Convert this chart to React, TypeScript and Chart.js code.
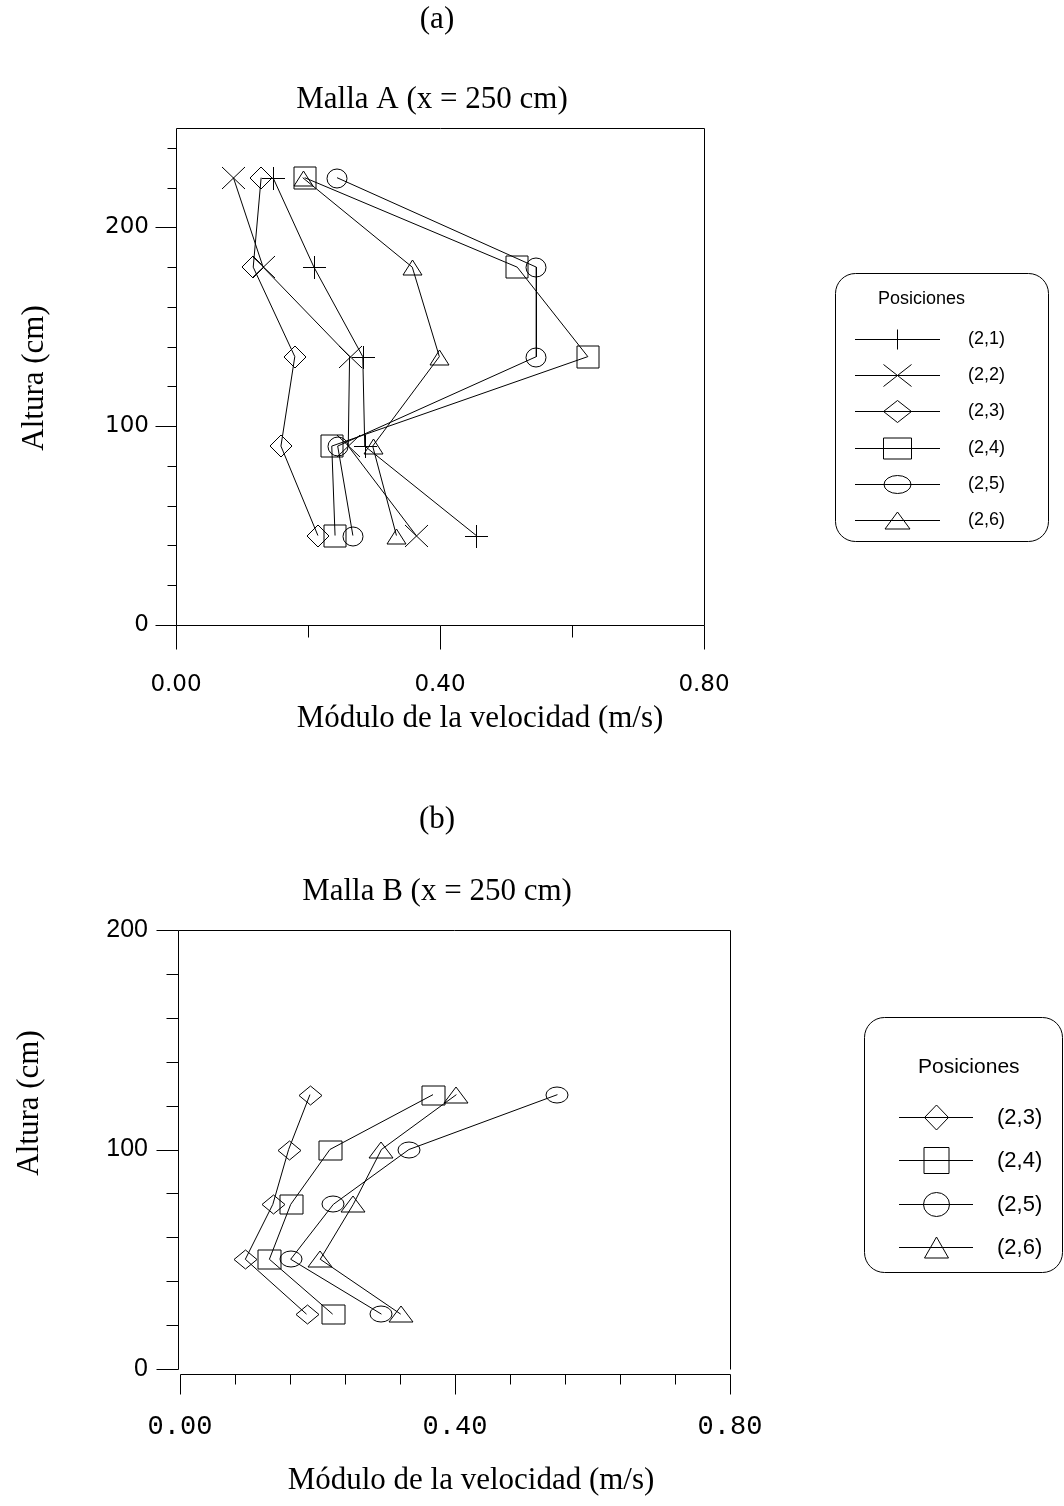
import React, { useEffect, useRef } from 'react';
import { Chart, registerables } from 'chart.js';

Chart.register(...registerables);

// ---------------- Data ----------------
// Chart (a): Malla A
const heightsA = [225, 180, 135, 90, 45];
const velA21 = [0.147, 0.209, 0.283, 0.286, 0.455];
const velA22 = [0.087, 0.132, 0.263, 0.261, 0.364];
const velA23 = [0.129, 0.117, 0.18, 0.159, 0.215];
const velA24 = [0.195, 0.517, 0.624, 0.236, 0.241];
const velA25 = [0.244, 0.546, 0.546, 0.245, 0.268];
const velA26 = [0.192, 0.358, 0.399, 0.298, 0.334];
const labelsA = ['(2,1)', '(2,2)', '(2,3)', '(2,4)', '(2,5)', '(2,6)'];

// Chart (b): Malla B
const heightsB = [125, 100, 75, 50, 25];
const velB23 = [0.189, 0.158, 0.135, 0.095, 0.184];
const velB24 = [0.368, 0.218, 0.161, 0.13, 0.222];
const velB25 = [0.549, 0.333, 0.223, 0.161, 0.293];
const velB26 = [0.402, 0.293, 0.252, 0.204, 0.321];
const labelsB = ['(2,3)', '(2,4)', '(2,5)', '(2,6)'];

// Tick labels
const xTickValues = [0, 0.4, 0.8];
const yTicksA = [0, 100, 200];
const yTicksB = [0, 100, 200];

const legendTitle = 'Posiciones';

// ---------------- Styles ----------------
type Shape = 'plus' | 'x' | 'diamond' | 'square' | 'circle' | 'triangle';
const shapesA: Shape[] = ['plus', 'x', 'diamond', 'square', 'circle', 'triangle'];
const shapesB: Shape[] = ['diamond', 'square', 'circle', 'triangle'];
const plotSizeA: [number, number][] = [[23, 23], [23, 22], [22, 22], [22, 22], [20, 19], [19, 15]];
const legSizeA: [number, number][] = [[20, 20], [28, 22], [28, 22], [28, 21], [27, 18], [25, 17]];
const plotSizeB: [number, number][] = [[23, 19], [23, 19], [22, 16], [24, 16]];
const legSizeB: [number, number][] = [[24, 25], [25, 26], [26, 24], [24, 21]];

const SERIF = '"Liberation Serif", "Times New Roman", serif';
const SANS = '"Liberation Sans", Arial, sans-serif';

function pathShape(ctx: CanvasRenderingContext2D, shape: Shape, cx: number, cy: number, w: number, h: number) {
  const hw = w / 2;
  const hh = h / 2;
  ctx.beginPath();
  switch (shape) {
    case 'plus':
      ctx.moveTo(cx - hw, cy);
      ctx.lineTo(cx + hw, cy);
      ctx.moveTo(cx, cy - hh);
      ctx.lineTo(cx, cy + hh);
      break;
    case 'x':
      ctx.moveTo(cx - hw, cy - hh);
      ctx.lineTo(cx + hw, cy + hh);
      ctx.moveTo(cx + hw, cy - hh);
      ctx.lineTo(cx - hw, cy + hh);
      break;
    case 'diamond':
      ctx.moveTo(cx, cy - hh);
      ctx.lineTo(cx + hw, cy);
      ctx.lineTo(cx, cy + hh);
      ctx.lineTo(cx - hw, cy);
      ctx.closePath();
      break;
    case 'square':
      ctx.rect(cx - hw, cy - hh, w, h);
      break;
    case 'circle':
      ctx.ellipse(cx, cy, hw, hh, 0, 0, Math.PI * 2);
      break;
    case 'triangle':
      ctx.moveTo(cx, cy - hh);
      ctx.lineTo(cx + hw, cy + hh);
      ctx.lineTo(cx - hw, cy + hh);
      ctx.closePath();
      break;
  }
  ctx.stroke();
}

function makeMarker(shape: Shape, w: number, h: number): HTMLCanvasElement {
  const c = document.createElement('canvas');
  const ew = w % 2 === 0 ? w + 4 : w + 3;
  const eh = h % 2 === 0 ? h + 4 : h + 3;
  c.width = ew;
  c.height = eh;
  const ctx = c.getContext('2d')!;
  ctx.strokeStyle = '#000';
  ctx.lineWidth = 1;
  const cx = Math.floor(ew / 2) + (w % 2 === 0 ? 0 : 0.5);
  const cy = Math.floor(eh / 2) + (h % 2 === 0 ? 0 : 0.5);
  pathShape(ctx, shape, cx, cy, w, h);
  return c;
}

function roundRectPath(ctx: CanvasRenderingContext2D, x1: number, y1: number, x2: number, y2: number, r: number) {
  ctx.beginPath();
  ctx.moveTo(x1 + r, y1);
  ctx.lineTo(x2 - r, y1);
  ctx.arcTo(x2, y1, x2, y1 + r, r);
  ctx.lineTo(x2, y2 - r);
  ctx.arcTo(x2, y2, x2 - r, y2, r);
  ctx.lineTo(x1 + r, y2);
  ctx.arcTo(x1, y2, x1, y2 - r, r);
  ctx.lineTo(x1, y1 + r);
  ctx.arcTo(x1, y1, x1 + r, y1, r);
  ctx.closePath();
}

const decorPlugin = {
  id: 'decor',
  beforeDraw(chart: any) {
    const { ctx, width, height } = chart;
    ctx.save();
    ctx.fillStyle = '#fff';
    ctx.fillRect(0, 0, width, height);
    ctx.restore();
  },
  beforeDatasetsDraw(chart: any) {
    chart.ctx.imageSmoothingEnabled = false;
  },
  afterDatasetsDraw(chart: any) {
    chart.ctx.imageSmoothingEnabled = true;
  },
  afterDraw(chart: any, _args: any, o: any) {
    const { ctx, chartArea: ca, scales } = chart;
    const xs = scales.x;
    const ys = scales.y;
    const f = o.frame;
    const p = (v: number) => Math.round(v) + 0.5;
    const line = (x1: number, y1: number, x2: number, y2: number) => {
      ctx.beginPath();
      ctx.moveTo(x1, y1);
      ctx.lineTo(x2, y2);
      ctx.stroke();
    };
    ctx.save();
    ctx.strokeStyle = '#000';
    ctx.lineWidth = 1;

    const yAx = p(ca.left - f.yAxisOffset);
    const top = p(ca.top);
    const right = p(ca.right);
    const bottom = p(ca.bottom);
    // frame
    line(yAx, top, yAx, bottom);
    line(yAx, top, right, top);
    line(right, top, right, bottom);
    // y ticks
    for (let i = 0; i * f.yStep <= ys.max + 1e-9; i++) {
      const v = i * f.yStep;
      const major = o.yMajor.some((m: number) => Math.abs(m - v) < 1e-9);
      const py = p(ys.getPixelForValue(v));
      line(yAx - (major ? f.yMajorLen : f.yMinorLen), py, yAx, py);
    }
    // x axis
    const xAy = p(ca.bottom + f.xAxisOffset);
    line(p(xs.getPixelForValue(xs.min)), xAy, p(xs.getPixelForValue(xs.max)), xAy);
    for (let i = 0; i * f.xStep <= xs.max + 1e-9; i++) {
      const v = i * f.xStep;
      const major = o.xMajor.some((m: number) => Math.abs(m - v) < 1e-9);
      const px = p(xs.getPixelForValue(v));
      line(px, xAy, px, xAy + (major ? f.xMajorLen : f.xMinorLen));
    }

    // texts
    ctx.fillStyle = '#000';
    ctx.textAlign = 'center';
    ctx.textBaseline = 'middle';
    for (const t of o.texts) {
      ctx.font = t.font;
      if (t.rotate) {
        ctx.save();
        ctx.translate(t.x, t.y);
        ctx.rotate(-Math.PI / 2);
        ctx.fillText(t.text, 0, 0);
        ctx.restore();
      } else {
        ctx.fillText(t.text, t.x, t.y);
      }
    }

    // legend
    const L = o.legend;
    roundRectPath(ctx, L.box[0] + 0.5, L.box[1] + 0.5, L.box[2] + 0.5, L.box[3] + 0.5, L.radius);
    ctx.stroke();
    ctx.textAlign = 'left';
    ctx.font = L.titleFont;
    ctx.fillText(L.title, L.titleX, L.titleY);
    ctx.font = L.labelFont;
    L.items.forEach((it: any, i: number) => {
      const ry = p(L.rowY0 + i * L.rowStep);
      line(L.lineX1, ry, L.lineX2, ry);
      pathShape(ctx, it.shape, L.markerX + 0.5, ry, it.w, it.h);
      ctx.fillText(it.label, L.labelX, ry);
    });
    ctx.restore();
  },
};

function buildDatasets(heights: number[], series: number[][], labels: string[], shapes: Shape[], sizes: [number, number][]) {
  return series.map((vals, i) => ({
    label: labels[i],
    data: vals.map((v, j) => ({ x: v, y: heights[j] })),
    showLine: true,
    borderColor: '#000',
    borderWidth: 1,
    pointStyle: makeMarker(shapes[i], sizes[i][0], sizes[i][1]),
    pointRadius: 10,
    pointHoverRadius: 10,
    pointBackgroundColor: 'rgba(0,0,0,0)',
    pointBorderColor: '#000',
    fill: false,
    tension: 0,
  }));
}

function scalesConfig(opts: any) {
  return {
    x: {
      type: 'linear',
      position: 'bottom',
      min: 0,
      max: 0.8,
      grid: { display: false, drawTicks: false },
      border: { display: false },
      afterBuildTicks: (s: any) => {
        s.ticks = xTickValues.map((v) => ({ value: v }));
      },
      afterFit: (s: any) => {
        s.height = opts.xHeight;
      },
      ticks: {
        autoSkip: false,
        maxRotation: 0,
        color: '#000',
        padding: opts.xPad,
        font: opts.xFont,
        callback: (v: any) => Number(v).toFixed(2),
      },
    },
    y: {
      type: 'linear',
      min: 0,
      max: opts.yMax,
      grid: { display: false, drawTicks: false },
      border: { display: false },
      afterBuildTicks: (s: any) => {
        s.ticks = opts.yTicks.map((v: number) => ({ value: v }));
      },
      afterFit: (s: any) => {
        s.width = opts.yWidth;
      },
      ticks: {
        autoSkip: false,
        color: '#000',
        padding: opts.yPad,
        font: opts.yFont,
        callback: (v: any) => String(v),
      },
    },
  };
}

function configA(): any {
  return {
    type: 'scatter',
    data: {
      datasets: buildDatasets(heightsA, [velA21, velA22, velA23, velA24, velA25, velA26], labelsA, shapesA, plotSizeA),
    },
    options: {
      responsive: false,
      animation: false,
      events: [],
      devicePixelRatio: 1,
      layout: { padding: { left: 0, right: 360, top: 128, bottom: 28 } },
      scales: scalesConfig({
        xHeight: 100,
        xPad: 46,
        xFont: { family: '"DejaVu Sans", Verdana, sans-serif', size: 23 },
        yMax: 250,
        yTicks: yTicksA,
        yWidth: 176,
        yPad: 27,
        yFont: { family: '"DejaVu Sans", Verdana, sans-serif', size: 23 },
      }),
      plugins: {
        legend: { display: false },
        title: { display: false },
        tooltip: { enabled: false },
        decor: {
          frame: { yAxisOffset: 0, xAxisOffset: 0, yStep: 20, yMajorLen: 21, yMinorLen: 9, xStep: 0.2, xMajorLen: 24, xMinorLen: 12 },
          yMajor: yTicksA,
          xMajor: xTickValues,
          texts: [
            { text: '(a)', x: 437, y: 20, font: `31px ${SERIF}` },
            { text: 'Malla A (x = 250 cm)', x: 432, y: 100, font: `31px ${SERIF}` },
            { text: 'Altura (cm)', x: 35, y: 378, font: `31px ${SERIF}`, rotate: true },
            { text: 'Módulo de la velocidad (m/s)', x: 480, y: 719, font: `31px ${SERIF}` },
          ],
          legend: {
            box: [835, 273, 1048, 541],
            radius: 20,
            title: legendTitle,
            titleX: 878,
            titleY: 299,
            titleFont: `18px ${SANS}`,
            labelFont: `18px ${SANS}`,
            rowY0: 339,
            rowStep: 36.2,
            lineX1: 855,
            lineX2: 940,
            markerX: 897,
            labelX: 968,
            items: labelsA.map((l, i) => ({ label: l, shape: shapesA[i], w: legSizeA[i][0], h: legSizeA[i][1] })),
          },
        },
      },
    },
    plugins: [decorPlugin],
  };
}

function configB(): any {
  return {
    type: 'scatter',
    data: {
      datasets: buildDatasets(heightsB, [velB23, velB24, velB25, velB26], labelsB, shapesB, plotSizeB),
    },
    options: {
      responsive: false,
      animation: false,
      events: [],
      devicePixelRatio: 1,
      layout: { padding: { left: 0, right: 334, top: 177, bottom: 37 } },
      scales: scalesConfig({
        xHeight: 100,
        xPad: 42,
        xFont: { family: '"Liberation Mono", "DejaVu Sans Mono", monospace', size: 27 },
        yMax: 200,
        yTicks: yTicksB,
        yWidth: 180,
        yPad: 32,
        yFont: { family: SANS, size: 25 },
      }),
      plugins: {
        legend: { display: false },
        title: { display: false },
        tooltip: { enabled: false },
        decor: {
          frame: { yAxisOffset: 2, xAxisOffset: 5, yStep: 20, yMajorLen: 22, yMinorLen: 12, xStep: 0.08, xMajorLen: 20, xMinorLen: 10 },
          yMajor: yTicksB,
          xMajor: xTickValues,
          texts: [
            { text: '(b)', x: 437, y: 67, font: `31px ${SERIF}` },
            { text: 'Malla B (x = 250 cm)', x: 437, y: 139, font: `31px ${SERIF}` },
            { text: 'Altura (cm)', x: 30, y: 350, font: `31px ${SERIF}`, rotate: true },
            { text: 'Módulo de la velocidad (m/s)', x: 471, y: 728, font: `31px ${SERIF}` },
          ],
          legend: {
            box: [864, 264, 1062, 519],
            radius: 20,
            title: legendTitle,
            titleX: 918,
            titleY: 314,
            titleFont: `21px ${SANS}`,
            labelFont: `22px ${SANS}`,
            rowY0: 364,
            rowStep: 43.3,
            lineX1: 899,
            lineX2: 973,
            markerX: 936,
            labelX: 997,
            items: labelsB.map((l, i) => ({ label: l, shape: shapesB[i], w: legSizeB[i][0], h: legSizeB[i][1] })),
          },
        },
      },
    },
    plugins: [decorPlugin],
  };
}

function ChartCanvas({ build, top }: { build: () => any; top: number }) {
  const ref = useRef<HTMLCanvasElement>(null);
  useEffect(() => {
    if (!ref.current) return;
    const chart = new Chart(ref.current, build());
    return () => chart.destroy();
  }, [build]);
  return (
    <canvas
      ref={ref}
      width={1064}
      height={753}
      style={{ position: 'absolute', left: 0, top, width: 1064, height: 753, display: 'block' }}
    />
  );
}

export default function App() {
  return (
    <div style={{ position: 'absolute', left: 0, top: 0, width: 1064, height: 1506, background: '#fff' }}>
      <ChartCanvas build={configA} top={0} />
      <ChartCanvas build={configB} top={753} />
    </div>
  );
}
